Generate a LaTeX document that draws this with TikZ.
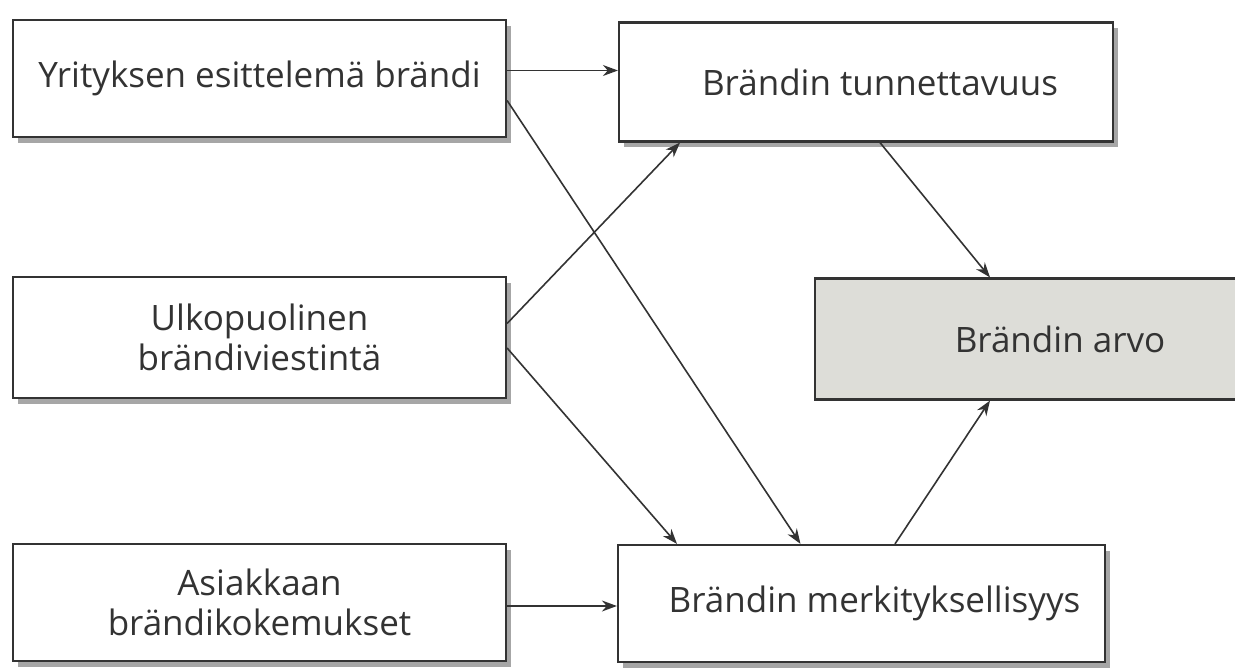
\documentclass[tikz,border=0pt]{standalone}
\usepackage{fontspec}
\setmainfont{Open Sans}
\usetikzlibrary{arrows.meta,shadows}
\definecolor{ink}{HTML}{333333}
\definecolor{valuegrey}{HTML}{DDDDD8}
\begin{document}
\begin{tikzpicture}[x=1pt,y=-1pt,
  box/.style={draw=ink, line width=2.2pt, fill=white, minimum width=493pt, minimum height=117pt,
    align=center, font=\fontsize{35}{40}\selectfont, text=ink,
    drop shadow={shadow xshift=5pt, shadow yshift=-6pt, fill=black!35, opacity=1}},
  valuebox/.style={draw=ink, line width=2.2pt, fill=valuegrey, minimum width=490pt, minimum height=121pt,
    align=center, font=\fontsize{35}{40}\selectfont, text=ink},
  arr/.style={draw=ink, line width=1.6pt, -{Stealth[length=15pt,width=11pt]}}]
\useasboundingbox (0,0) rectangle (1235,671);
\clip (0,0) rectangle (1235,671);
\fill[white] (0,0) rectangle (1235,671);

\node[box] (b1) at (259.5,78.5) {Yrityksen esittelemä brändi};
\node[box, minimum width=494pt, minimum height=119pt] (b2) at (866,82) {\hspace*{28pt}Brändin tunnettavuus};
\node[box, minimum height=121pt] (b3) at (259.5,337.5) {Ulkopuolinen\\brändiviestintä};
\node[box] (b4) at (259.5,602.5) {Asiakkaan\\brändikokemukset};
\node[box, minimum width=487pt] (b5) at (861.5,603.5) {\hspace*{26pt}Brändin merkityksellisyys};
\node[valuebox] (b6) at (1060,339) {Brändin arvo};

\draw[arr] ([yshift=8pt]b1.east) -- ([yshift=8pt]b1.east -| b2.west);
\draw[arr] ([yshift=-22pt]b1.east) -- ([xshift=-61pt]b5.north);
\draw[arr] ([yshift=14pt]b3.east) -- ([xshift=-186pt]b2.south);
\draw[arr] ([yshift=-10.5pt]b3.east) -- ([xshift=-184.5pt]b5.north);
\draw[arr] ([yshift=-3.5pt]b4.east) -- ([yshift=-3.5pt]b4.east -| b5.west);
\draw[arr] ([xshift=14pt]b2.south) -- ([xshift=-70pt]b6.north);
\draw[arr] ([xshift=33.5pt]b5.north) -- ([xshift=-70pt]b6.south);
\end{tikzpicture}
\end{document}
